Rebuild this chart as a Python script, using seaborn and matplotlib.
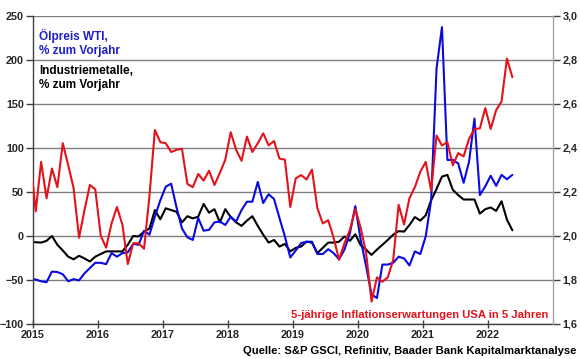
import numpy as np
import pandas as pd
import matplotlib
matplotlib.use("Agg")
import matplotlib.pyplot as plt
import seaborn as sns
from matplotlib.ticker import FuncFormatter

# ---------------- data (monthly, Dec 2014 .. May 2022) ----------------
start_month = "2014-12-01"

# Ölpreis WTI, % zum Vorjahr (left axis)
oil_wti = [-49, -50, -52, -53, -41, -41.5, -44, -52, -49.5, -51, -43, -37, -31,
           -31, -32.5, -20, -24, -20, -19, -9.5, -10.5, 5.5, 1, 21.5, 40, 55.5,
           59, 32, 8, -2, -5, 20, 5.5, 6.5, 15, 16, 12, 21.5, 16, 29, 38.5, 38.5,
           61, 37, 47, 41.5, 20, -1, -25, -17, -8.5, -7, -7, -21, -21, -15.5, -20,
           -27, -16, 2.5, 33.5, -5, -35, -67, -71, -33, -33, -31, -24, -26, -34,
           -18, -21, -1, 40, 190, 237, 86, 86, 82, 60, 84, 133, 46, 56, 68, 56.5,
           69, 64, 69]

# Industriemetalle, % zum Vorjahr (left axis)
metals = [-7, -7.6, -8, -6, -0.5, -10.5, -17, -24, -27, -23, -26, -29.5, -24,
          -21, -18, -18, -18, -18, -10.5, -0.5, -1, 4.5, 8, 29, 18.5, 31, 29, 27,
          15, 22, 19.5, 21.5, 36, 26, 30, 15, 30, 21, 15, 11, 17, 22, 11, 1, -8,
          -5, -12.5, -9.5, -18, -14, -12.5, -7, -8, -20, -14, -8, -8, -7, -1, -6,
          1.5, -11, -16, -22, -16, -10.5, -5, 1, 5, 4.5, 12, 21, 17, 23, 40, 53,
          67, 69, 52, 46, 41, 41, 41, 25, 30, 32, 28, 39, 18, 6]

# 5-jährige Inflationserwartungen USA in 5 Jahren (right axis)
infl_5y5y = [2.35, 2.11, 2.335, 2.17, 2.305, 2.22, 2.42, 2.32, 2.215, 1.99, 2.115,
             2.23, 2.21, 2.00, 1.945, 2.055, 2.13, 2.05, 1.87, 1.965, 1.965, 1.94,
             2.18, 2.48, 2.425, 2.42, 2.38, 2.39, 2.395, 2.235, 2.22, 2.28, 2.25,
             2.295, 2.23, 2.285, 2.345, 2.47, 2.39, 2.34, 2.45, 2.38, 2.42, 2.465,
             2.41, 2.43, 2.35, 2.345, 2.13, 2.26, 2.275, 2.255, 2.30, 2.125, 2.055,
             2.07, 1.99, 1.89, 1.965, 2.025, 2.12, 2.035, 1.92, 1.70, 1.81, 1.79,
             1.81, 1.89, 2.14, 2.05, 2.17, 2.22, 2.29, 2.335, 2.205, 2.455, 2.41,
             2.425, 2.32, 2.375, 2.36, 2.44, 2.485, 2.487, 2.58, 2.485, 2.57, 2.61,
             2.805, 2.72]

years = [2015, 2016, 2017, 2018, 2019, 2020, 2021, 2022]
left_ticks = [-100, -50, 0, 50, 100, 150, 200, 250]
right_ticks = [1.6, 1.8, 2.0, 2.2, 2.4, 2.6, 2.8, 3.0]

# ---------------- build frame ----------------
dates = pd.date_range(start_month, periods=len(oil_wti), freq="MS")
df = pd.DataFrame({
    "t": dates.year + (dates.month - 0.5) / 12.0,
    "oil": oil_wti,
    "metals": metals,
    "infl": infl_5y5y,
})

# ---------------- style ----------------
sns.set_style("white")
plt.rcParams["font.family"] = ["Liberation Sans", "DejaVu Sans"]
plt.rcParams["font.weight"] = "bold"

W, H = 580, 359
fig = plt.figure(figsize=(W / 100, H / 100), dpi=100)
x0, x1, ytop, ybot = 33, 553, 15.7, 323.5
ax = fig.add_axes([x0 / W, 1 - ybot / H, (x1 - x0) / W, (ybot - ytop) / H])

BLUE = "#0a0ae0"
RED = "#e3121b"
BLACK = "#000000"

sns.lineplot(data=df, x="t", y="metals", ax=ax, color=BLACK, linewidth=1.5)
sns.lineplot(data=df, x="t", y="oil", ax=ax, color=BLUE, linewidth=1.5)

ax.set_xlim(2015, 2023)
ax.set_ylim(-100, 250)
ax.set_yticks(left_ticks)
ax.set_xticks(years)
ax.set_xticklabels([str(y) for y in years])
ax.grid(axis="y", color="#7f7f7f", linewidth=1.0)
ax.grid(axis="x", visible=False)
ax.set_axisbelow(True)
ax.set_xlabel("")
ax.set_ylabel("")
for s in ["top", "right"]:
    ax.spines[s].set_visible(False)
for s in ["left", "bottom"]:
    ax.spines[s].set_color("#404040")
    ax.spines[s].set_linewidth(1.0)
ax.tick_params(axis="y", direction="out", length=5, width=1, color="#404040",
               labelsize=7.8, pad=1.5, left=True)
ax.tick_params(axis="x", direction="inout", length=6, width=1, color="#404040",
               labelsize=7.8, pad=1.5, bottom=True)

ax2 = ax.twinx()
sns.lineplot(data=df, x="t", y="infl", ax=ax2, color=RED, linewidth=1.5)
ax2.set_ylim(1.6, 3.0)
ax2.set_xlim(2015, 2023)
ax2.set_yticks(right_ticks)
ax2.yaxis.set_major_formatter(FuncFormatter(lambda v, p: f"{v:.1f}".replace(".", ",")))
ax2.set_ylabel("")
ax2.grid(False)
for s in ["top", "left", "bottom"]:
    ax2.spines[s].set_visible(False)
ax2.spines["right"].set_color("#a6a6a6")
ax2.spines["right"].set_linewidth(1.0)
ax2.tick_params(axis="y", direction="out", length=5, width=1, color="#404040",
                labelsize=7.8, pad=2, right=True)

for lab in ax.get_xticklabels() + ax.get_yticklabels() + ax2.get_yticklabels():
    lab.set_fontweight("bold")

# ---------------- annotations ----------------
fig.text(39 / W, 1 - 29 / H, "Ölpreis WTI,\n% zum Vorjahr", color="#1f1fc8",
         fontsize=8.5, fontweight="bold", ha="left", va="top", linespacing=1.2)
fig.text(39 / W, 1 - 65 / H, "Industriemetalle,\n% zum Vorjahr", color=BLACK,
         fontsize=8.5, fontweight="bold", ha="left", va="top", linespacing=1.2)
fig.text(548 / W, 1 - 315 / H, "5-jährige Inflationserwartungen USA in 5 Jahren",
         color=RED, fontsize=8.1, fontweight="bold", ha="right", va="center")
fig.text(576 / W, 1 - 351 / H,
         "Quelle: S&P GSCI, Refinitiv, Baader Bank Kapitalmarktanalyse",
         color=BLACK, fontsize=8.1, fontweight="bold", ha="right", va="center")

fig.savefig("out.png", dpi=100)
